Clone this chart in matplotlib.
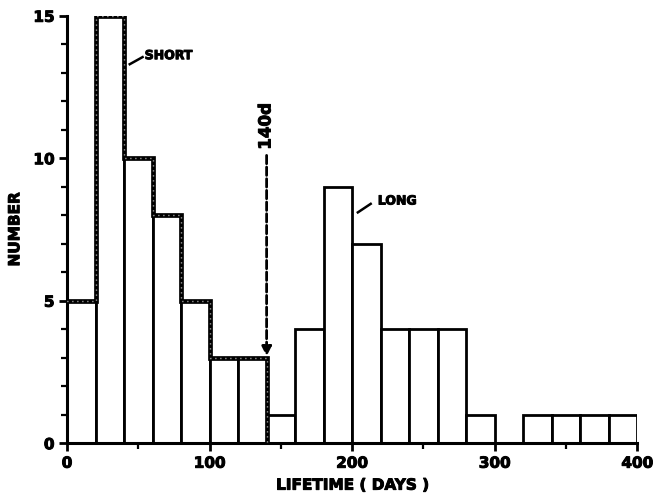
import numpy as np
import matplotlib.pyplot as plt
import matplotlib.patheffects as pe

plt.rcParams['font.family'] = ['DejaVu Sans']
plt.rcParams['font.weight'] = 'bold'

# histogram of lifetimes, 20-day bins
bin_edges = list(range(0, 420, 20))
counts = [5, 15, 10, 8, 5, 3, 3, 1, 4, 9, 7, 4, 4, 4, 1, 0, 1, 1, 1, 1]
# outline of the "short" population (0-140 d)
short_edges = [0, 20, 40, 60, 80, 100, 120, 140]
short_counts = [5, 15, 10, 8, 5, 3, 3]

heavy = [pe.withStroke(linewidth=0.7, foreground="black")]

fig = plt.figure(figsize=(6.57, 4.93), dpi=100)
ax = fig.add_axes([0.102, 0.101, 0.868, 0.867])

lefts = bin_edges[:-1]
for x0, c in zip(lefts, counts):
    if c > 0:
        ax.bar(x0, c, width=20, align="edge", facecolor="white",
               edgecolor="black", linewidth=2.0, zorder=2)

# heavy dotted outline of the short group
sx, sy = [], []
for i, c in enumerate(short_counts):
    sx += [short_edges[i], short_edges[i + 1]]
    sy += [c, c]
sx += [short_edges[-1]]
sy += [0]
ax.plot(sx, sy, color="black", linewidth=3.4, solid_joinstyle="miter", zorder=3)
ax.plot(sx, sy, color="white", linewidth=1.0, linestyle=(0, (0.6, 3)), zorder=4)

# 140 d cut with arrow
ax.annotate("", xy=(140, 3.05), xytext=(140, 10.1),
            arrowprops=dict(arrowstyle="-|>", color="black", lw=2.0,
                            linestyle=(0, (3, 1.2)), mutation_scale=14,
                            shrinkA=0, shrinkB=0), zorder=5)
ax.text(139.2, 10.3, "140d", rotation=90, ha="center", va="bottom",
        fontsize=12, fontweight="bold", path_effects=heavy)

# labels with small leaders
ax.plot([44, 53], [13.3, 13.55], color="black", lw=1.8)
ax.text(54.5, 13.6, "SHORT", fontsize=9, fontweight="bold", va="center",
        ha="left", path_effects=heavy)
ax.plot([204, 213], [8.1, 8.4], color="black", lw=1.8)
ax.text(218, 8.5, "LONG", fontsize=9, fontweight="bold", va="center",
        ha="left", path_effects=heavy)

ax.set_xlim(0, 400)
ax.set_ylim(0, 15)
ax.spines["top"].set_visible(False)
ax.spines["right"].set_visible(False)
ax.spines["left"].set_linewidth(2.2)
ax.spines["bottom"].set_linewidth(2.2)
ax.spines["left"].set_bounds(0, 15)
ax.set_xticks([0, 100, 200, 300, 400])
ax.set_xticks([50, 150, 250, 350], minor=True)
ax.set_yticks([0, 5, 10, 15])
ax.set_yticks(range(0, 16), minor=True)
ax.tick_params(axis="both", which="major", direction="out", length=6, width=2,
               labelsize=11, pad=3)
ax.tick_params(axis="both", which="minor", direction="out", length=4, width=1.6)
for lab in ax.get_xticklabels() + ax.get_yticklabels():
    lab.set_fontweight("bold")
    lab.set_path_effects(heavy)

ax.set_xlabel("LIFETIME ( DAYS )", fontsize=11, fontweight="bold", labelpad=5,
              path_effects=heavy)
ax.set_ylabel("NUMBER", fontsize=11, fontweight="bold", labelpad=8,
              path_effects=heavy)

fig.savefig("out.png", dpi=100)
